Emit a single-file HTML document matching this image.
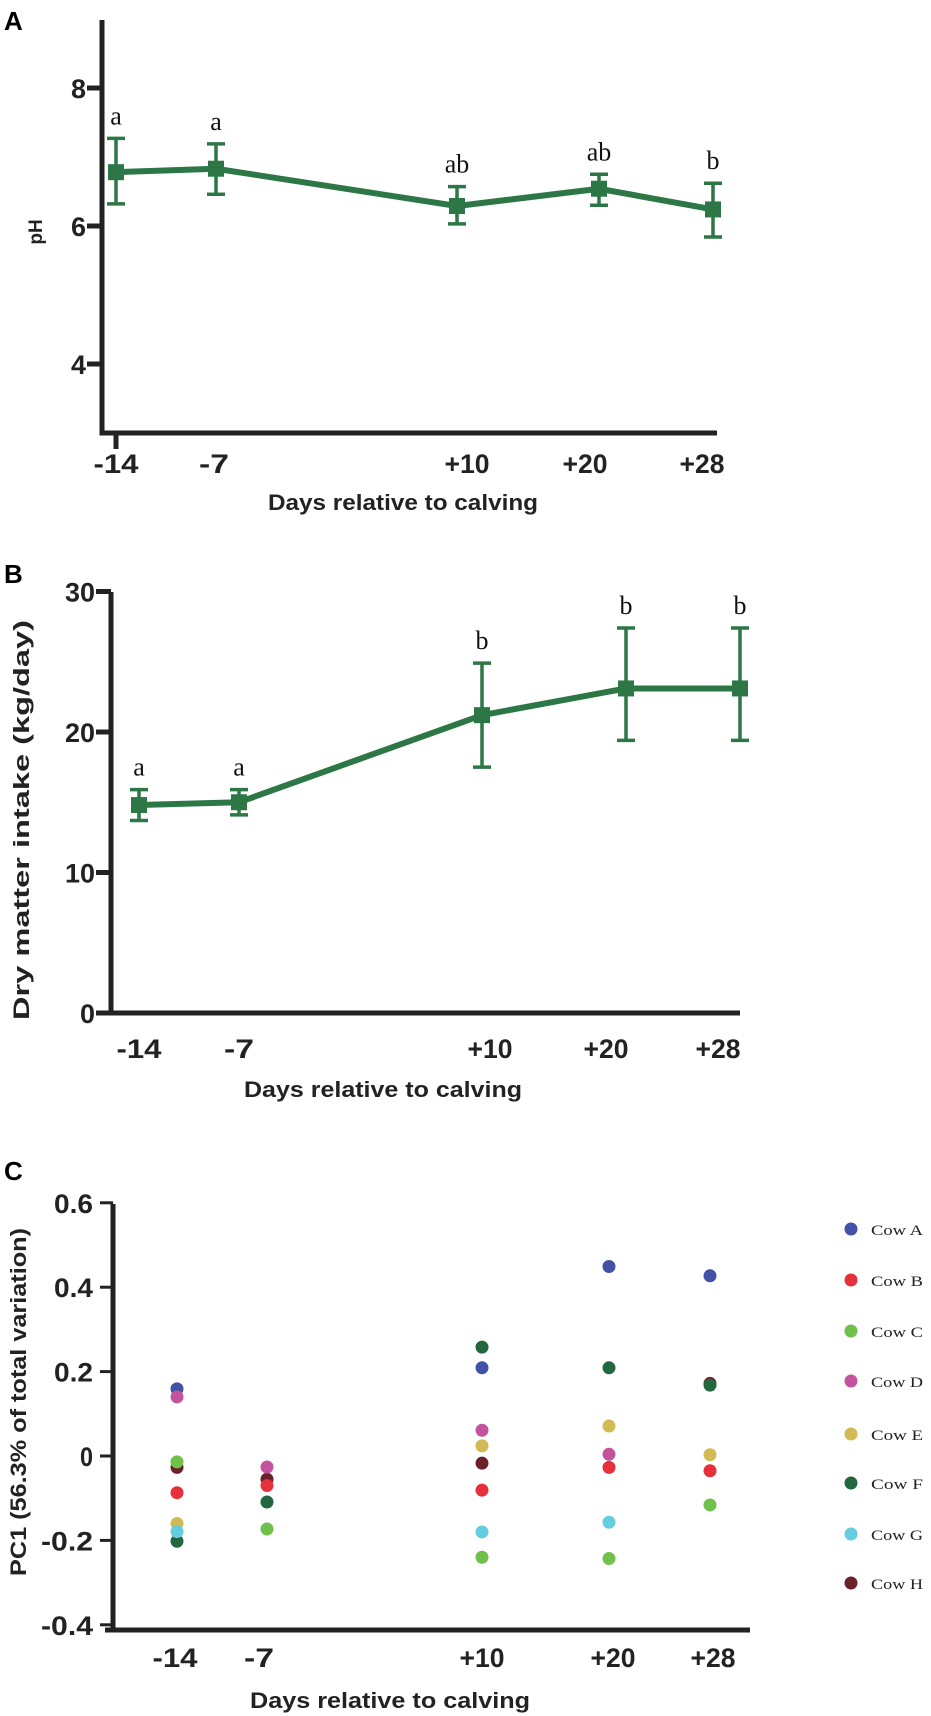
<!DOCTYPE html>
<html><head><meta charset="utf-8"><style>
html,body{margin:0;padding:0;background:#fff}
svg{display:block}
text{font-family:"Liberation Sans",sans-serif}
.tk{font-weight:bold;font-size:27px;fill:#222}
.ttl{font-weight:bold;font-size:22px;fill:#222}
.let{font-family:"Liberation Serif",serif;font-size:26px;fill:#111}
.leg{font-family:"Liberation Serif",serif;font-size:15px;fill:#222}
</style></head><body>
<svg id="fig" width="931" height="1716" viewBox="0 0 931 1716">
<g id="pA"></g>
<g id="pB"></g>
<g id="pC"></g>
</svg>
<script>
const days = ["-14","-7","+10","+20","+28"];
const phMean = [6.78, 6.83, 6.29, 6.54, 6.24];
const phHi = [7.27, 7.19, 6.57, 6.75, 6.62];
const phLo = [6.32, 6.46, 6.03, 6.30, 5.84];
const phLetters = ["a","a","ab","ab","b"];
const phTicks = [4, 6, 8];
const dmiMean = [14.8, 15.0, 21.2, 23.1, 23.1];
const dmiHi = [15.9, 15.9, 24.9, 27.4, 27.4];
const dmiLo = [13.7, 14.1, 17.5, 19.4, 19.4];
const dmiLetters = ["a","a","b","b","b"];
const dmiTicks = [0, 10, 20, 30];
const cows = ["Cow A","Cow B","Cow C","Cow D","Cow E","Cow F","Cow G","Cow H"];
const cowColors = ["#4252a6","#e6303c","#70c04c","#c2539c","#d2bb55","#22673e","#65cde0","#6a2127"];
const pcA = [0.159, null, 0.209, 0.449, 0.427];
const pcB = [-0.087, -0.070, -0.081, -0.027, -0.035];
const pcC = [-0.014, -0.173, -0.240, -0.243, -0.116];
const pcD = [0.140, -0.026, 0.061, 0.004, null];
const pcE = [-0.160, null, 0.024, 0.071, 0.003];
const pcF = [-0.202, -0.109, 0.258, 0.209, 0.168];
const pcG = [-0.179, null, -0.180, -0.157, null];
const pcH = [-0.027, -0.055, -0.017, null, 0.172];
const pcTicks = [-0.4, -0.2, 0, 0.2, 0.4, 0.6];
const pcTickLabels = ["-0.4","-0.2","0","0.2","0.4","0.6"];

const NS="http://www.w3.org/2000/svg";
function mk(parent,tag,attrs,txt){const e=document.createElementNS(NS,tag);for(const k in attrs)e.setAttribute(k,attrs[k]);if(txt!==undefined)e.textContent=txt;parent.appendChild(e);return e;}
const G="#2d7746";

function linePanel(g,cfg){
  const {xPos,y,yTicks,mean,hi,lo,letters,ax}=cfg;
  let e=mk(g,'line',{x1:ax.x,y1:ax.top,x2:ax.x,y2:ax.bot+2.5,stroke:'#222','stroke-width':5});
  
  
  e=mk(g,'line',{x1:ax.x-2.5,y1:ax.bot,x2:ax.right,y2:ax.bot,stroke:'#222','stroke-width':5});
  
  
  yTicks.forEach(t=>{
    e=mk(g,'line',{x1:ax.x-15,y1:y(t),x2:ax.x,y2:y(t),stroke:'#222','stroke-width':5});
    
    
    e=mk(g,'text',{x:ax.x-16,y:y(t)+10,'text-anchor':'end',class:'tk',textLength:String(t).length*15,lengthAdjust:'spacingAndGlyphs'},String(t));
    
    
  });
  days.forEach((d,i)=>{
    e=mk(g,'text',{x:xPos[i]+(ax.lblShift?ax.lblShift[i]:0),y:ax.lblY,'text-anchor':'middle',class:'tk',textLength:d.length*15,lengthAdjust:'spacingAndGlyphs'},d);
    
    
  });
  e=mk(g,'polyline',{points:mean.map((m,i)=>xPos[i]+','+y(m)).join(' '),fill:'none',stroke:G,'stroke-width':6,'stroke-linejoin':'round'});
  
  
  mean.forEach((m,i)=>{
    const x=xPos[i];
    e=mk(g,'path',{d:`M${x},${y(hi[i])}V${y(lo[i])}M${x-9},${y(hi[i])}H${x+9}M${x-9},${y(lo[i])}H${x+9}`,stroke:G,'stroke-width':3.5,fill:'none'});
    
    
    e=mk(g,'rect',{x:x-8,y:y(m)-8,width:16,height:16,fill:G});
    
    
    e=mk(g,'text',{x:x,y:y(hi[i])-ax.letGap,'text-anchor':'middle',class:'let'},letters[i]);
    
    
  });
}

// Panel A
const gA=document.getElementById('pA');
const yA=v=>226-(v-6)*69;
let t=mk(gA,'text',{x:4,y:30,style:'font-weight:bold;font-size:26px'},'A');


linePanel(gA,{xPos:[116,216,457,599,713],y:yA,yTicks:phTicks,mean:phMean,hi:phHi,lo:phLo,letters:phLetters,
  ax:{x:102,top:20,bot:433,right:717,lblY:473,letGap:14,lblShift:[0,-2,10,-14,-11]}});
t=mk(gA,'line',{x1:116,y1:433,x2:116,y2:449,stroke:'#222','stroke-width':5});


t=mk(gA,'text',{x:403,y:510,'text-anchor':'middle',class:'ttl',textLength:270,lengthAdjust:'spacingAndGlyphs'},'Days relative to calving');


t=mk(gA,'text',{x:0,y:0,transform:'translate(42,232) rotate(-90)','text-anchor':'middle',style:'font-weight:bold;font-size:19px;fill:#222'},'pH');



// Panel B
const gB=document.getElementById('pB');
const yB=v=>1013-v*14.05;
t=mk(gB,'text',{x:4,y:583,style:'font-weight:bold;font-size:26px'},'B');


linePanel(gB,{xPos:[139,239,482,626,740],y:yB,yTicks:dmiTicks,mean:dmiMean,hi:dmiHi,lo:dmiLo,letters:dmiLetters,
  ax:{x:111,top:592,bot:1013,right:740,lblY:1058,letGap:14,lblShift:[0,0,8,-20,-22]}});
t=mk(gB,'text',{x:383,y:1097,'text-anchor':'middle',class:'ttl',textLength:278,lengthAdjust:'spacingAndGlyphs'},'Days relative to calving');


t=mk(gB,'text',{x:0,y:0,transform:'translate(29,820) rotate(-90)','text-anchor':'middle',class:'ttl',textLength:400,lengthAdjust:'spacingAndGlyphs'},'Dry matter intake (kg/day)');



// Panel C
const gC=document.getElementById('pC');
const yC=v=>1456-v*422;
const xC=[177,267,482,609,710];
t=mk(gC,'text',{x:4,y:1180,style:'font-weight:bold;font-size:26px'},'C');


t=mk(gC,'line',{x1:113,y1:1204,x2:113,y2:1632,stroke:'#222','stroke-width':5});


t=mk(gC,'line',{x1:105,y1:1630,x2:750,y2:1630,stroke:'#222','stroke-width':5});


pcTicks.forEach((v,i)=>{
  t=mk(gC,'line',{x1:100,y1:yC(v),x2:113,y2:yC(v),stroke:'#222','stroke-width':3});
  
  
  const s=pcTickLabels[i];
  t=mk(gC,'text',{x:93,y:yC(v)+10,'text-anchor':'end',class:'tk',textLength:s.length*13,lengthAdjust:'spacingAndGlyphs'},s);
  
  
});
const cShift=[-2,-8,0,4,3];
days.forEach((d,i)=>{
  t=mk(gC,'text',{x:xC[i]+cShift[i],y:1667,'text-anchor':'middle',class:'tk',textLength:d.length*15,lengthAdjust:'spacingAndGlyphs'},d);
  
  
});
t=mk(gC,'text',{x:390,y:1708,'text-anchor':'middle',class:'ttl',textLength:280,lengthAdjust:'spacingAndGlyphs'},'Days relative to calving');


t=mk(gC,'text',{x:0,y:0,transform:'translate(26,1402) rotate(-90)','text-anchor':'middle',class:'ttl',textLength:348,lengthAdjust:'spacingAndGlyphs'},'PC1 (56.3% of total variation)');


const pcSeries=[pcA,pcB,pcC,pcD,pcE,pcF,pcG,pcH];
const drawOrder=[7,5,0,3,4,1,2,6];
drawOrder.forEach(ci=>{
  pcSeries[ci].forEach((v,i)=>{
    if(v===null)return;
    const c=mk(gC,'circle',{cx:xC[i],cy:yC(v),r:6.5,fill:cowColors[ci]});
    
    
  });
});
const legY=[1229,1280,1331,1381,1434,1483,1534,1583];
cows.forEach((n,i)=>{
  const c=mk(gC,'circle',{cx:851,cy:legY[i],r:6.5,fill:cowColors[i]});
  
  
  const tx=mk(gC,'text',{x:871,y:legY[i]+6,class:'leg',textLength:52,lengthAdjust:'spacingAndGlyphs'},n);
  
  
});
</script>
</body></html>
